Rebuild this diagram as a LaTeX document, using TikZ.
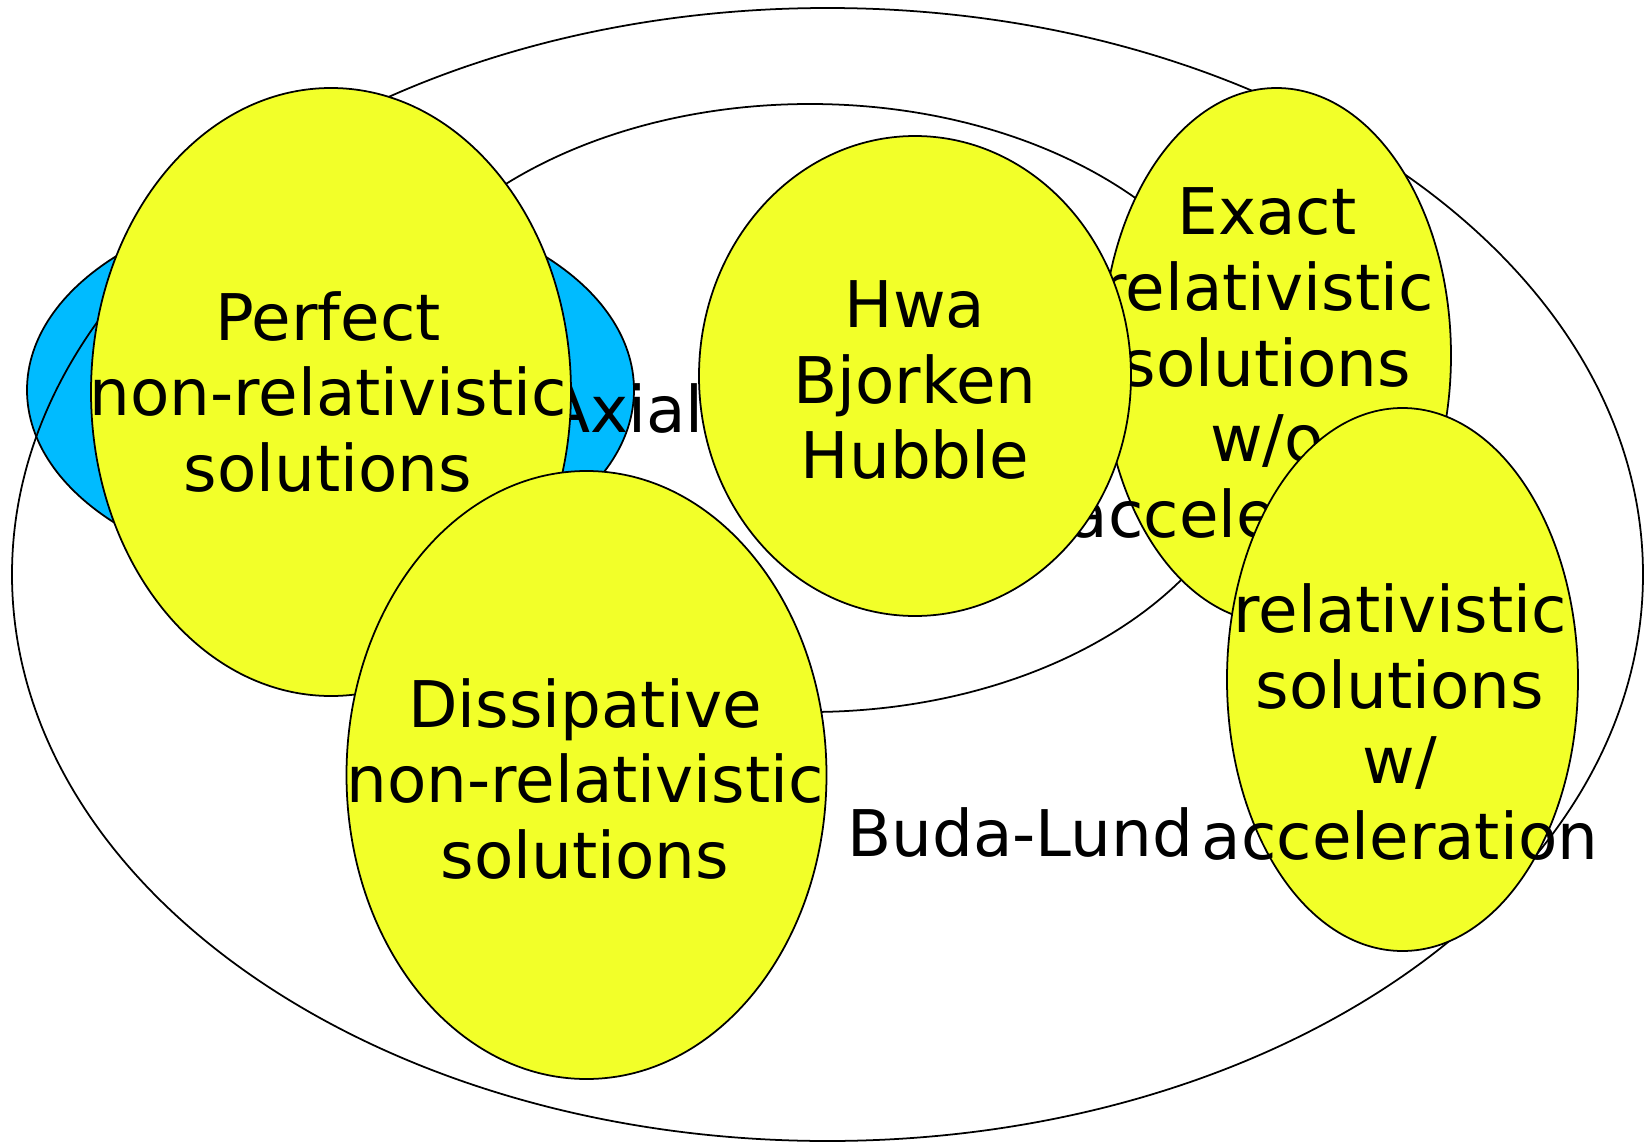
\documentclass[tikz,border=0pt]{standalone}
\usepackage{fontspec}
\setmainfont{DejaVu Sans}
\definecolor{setyellow}{RGB}{242,255,41}
\definecolor{setblue}{RGB}{0,187,255}
\tikzset{
    solset/.style={fill=setyellow, draw=black, line width=0.5pt},
    setlabel/.style={align=center, inner sep=0pt, font=\fontsize{18.3}{21.6}\selectfont}
}
\begin{document}
\begin{tikzpicture}[x=0.01cm, y=-0.01cm]
    \useasboundingbox (0,0) rectangle (1650,1142);

    % Axial set and the two big families
    \filldraw[fill=setblue, line width=0.5pt] (330.5,390) ellipse [x radius=303.5, y radius=189];
    \draw[line width=0.5pt] (827.5,574.5) ellipse [x radius=815.5, y radius=566.5];
    \draw[line width=0.5pt] (810,408) ellipse [x radius=450, y radius=304];
    \node[setlabel] (axial) at (625,409) {Axial};

    % Perfect non-relativistic solutions
    \filldraw[solset] (331,392) ellipse [x radius=240, y radius=304];
    \node[setlabel] (perfect) at (328,392) {Perfect\\non-relativistic\\solutions};

    % Dissipative
    \filldraw[solset] (586.5,775) ellipse [x radius=240, y radius=304];
    \node[setlabel] (dissipative) at (585,779) {Dissipative\\non-relativistic\\solutions};

    % Exact relativistic, no acceleration
    \filldraw[solset] (1276.5,355.5) ellipse [x radius=174.5, y radius=267.5];
    \node[setlabel] (exact) at (1267,363) {Exact\\relativistic\\solutions\\w/o\\acceleration};

    % Hwa-Bjorken
    \filldraw[solset] (915,376) ellipse [x radius=216, y radius=240];
    \node[setlabel] (hwa) at (915,380) {Hwa\\Bjorken\\Hubble};

    % relativistic with acceleration
    \filldraw[solset] (1402.5,679.5) ellipse [x radius=175.5, y radius=271.5];
    \node[setlabel] (accel) at (1400,722) {relativistic\\solutions\\w/\\acceleration};

    \node[setlabel] (budalund) at (1020,833) {Buda-Lund};
\end{tikzpicture}
\end{document}
